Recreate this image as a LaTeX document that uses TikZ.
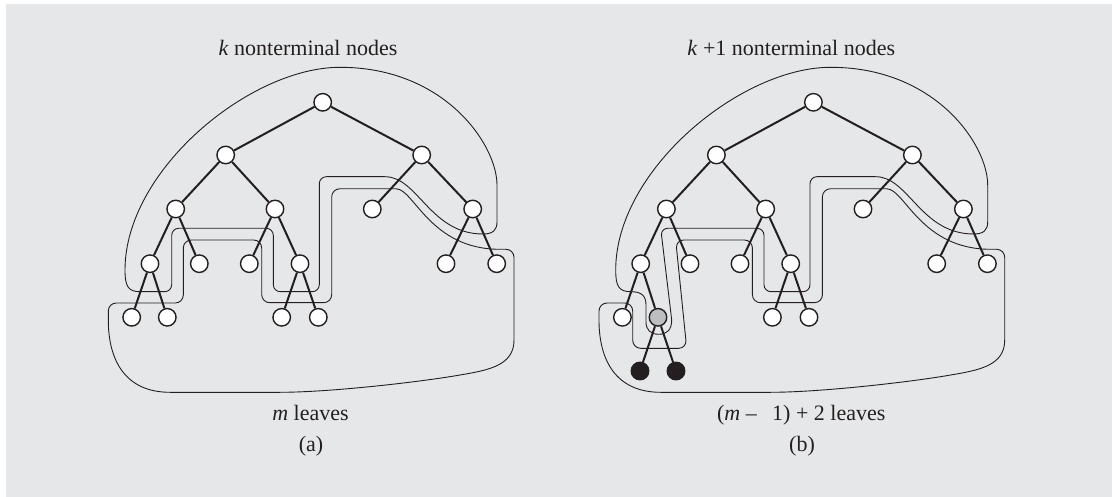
\documentclass[tikz,border=0pt]{standalone}
\usepackage{fontspec}
\setmainfont{Liberation Serif}
\definecolor{bg}{HTML}{E6E7E8}
\definecolor{ink}{HTML}{231F20}
\definecolor{midgray}{HTML}{BCBEC0}
\tikzset{
 tn/.style={circle, draw=ink, line width=1.4pt, fill=white, minimum size=17.5pt, inner sep=0pt},
 gn/.style={tn, fill=midgray},
 bn/.style={tn, fill=ink},
 treeedge/.style={draw=ink, line width=2pt},
 region/.style={draw=ink, line width=0.9pt},
 lbl/.style={font=\fontsize{22}{26}\selectfont, text=ink, anchor=base, inner sep=0pt}
}
\newcommand{\treenodes}[2]{%
 \node[tn] (#1r) at (322.7,102.3) {};
 \node[tn] (#1a) at (225.7,155) {};
 \node[tn] (#1b) at (421.7,155) {};
 \node[tn] (#1aa) at (175.7,209) {};
 \node[tn] (#1ab) at (275,209) {};
 \node[tn] (#1ba) at (372.3,209) {};
 \node[tn] (#1bb) at (472.7,209) {};
 \node[tn] (#1aaa) at (150,263.7) {};
 \node[tn] (#1aab) at (199.3,263.7) {};
 \node[tn] (#1aba) at (249.3,263.7) {};
 \node[tn] (#1abb) at (300,263.7) {};
 \node[tn] (#1bba) at (446,263.7) {};
 \node[tn] (#1bbb) at (496.7,263.7) {};
 \node[tn] (#1aaaa) at (131.7,317.3) {};
 \node[#2] (#1aaab) at (167.3,317.3) {};
 \node[tn] (#1abba) at (281.7,317.3) {};
 \node[tn] (#1abbb) at (318.3,317.3) {};
 \draw[treeedge] (#1r) -- (#1a) (#1r) -- (#1b)
  (#1a) -- (#1aa) (#1a) -- (#1ab) (#1b) -- (#1ba) (#1b) -- (#1bb)
  (#1aa) -- (#1aaa) (#1aa) -- (#1aab) (#1ab) -- (#1aba) (#1ab) -- (#1abb)
  (#1bb) -- (#1bba) (#1bb) -- (#1bbb)
  (#1aaa) -- (#1aaaa) (#1aaa) -- (#1aaab) (#1abb) -- (#1abba) (#1abb) -- (#1abbb);
}
\begin{document}
\begin{tikzpicture}[x=1pt,y=-1pt]
\useasboundingbox (0,0) rectangle (1112,497);
\fill[white] (0,0) rectangle (1112,497);
\fill[bg] (6,4) rectangle (1112,497);

% ---------- panel (a) ----------
\draw[region] (340,67.3) .. controls (250,67.3) and (125,170) .. (125,270)
  .. controls (125,286) and (128,291.7) .. (140,291.7)
  [rounded corners=7pt] -- (171.7,291.7) -- (171.7,228.3) -- (273.3,228.3) -- (273.3,291.7)
  -- (319.3,291.7) -- (319.3,176.7) -- (378,176.7) [sharp corners]
  .. controls (418,176.7) and (430,234) .. (483,234)
  .. controls (493,234) and (497,230) .. (497,222) -- (497,185)
  .. controls (497,145) and (445,67.3) .. (340,67.3) -- cycle;
\draw[region] (108.3,320) [rounded corners=8pt] -- (108.3,303) -- (183.3,303) -- (183.3,240)
  -- (261.7,240) -- (261.7,302.7) -- (331.7,302.7) -- (331.7,188.8) -- (388,188.8) [sharp corners]
  .. controls (414,188.8) and (430,249.3) .. (500,249.3) [rounded corners=8pt]
  -- (514,249.3) -- (514,300) [sharp corners] -- (514,340)
  .. controls (514,365) and (490,370) .. (460,375)
  .. controls (420,382) and (330,392.3) .. (280,392.3) -- (170,392.3)
  .. controls (125,392.3) and (108.3,360) .. (108.3,320) -- cycle;
\treenodes{L}{tn}
\node[lbl] (ta1) at (308,56) {\textit{k} nonterminal nodes};
\node[lbl] (ta2) at (310.5,420.7) {\textit{m} leaves};
\node[lbl] (ta3) at (311,451) {(a)};

% ---------- panel (b) ----------
\begin{scope}[xshift=490.7pt]
\draw[region] (340,67.3) .. controls (250,67.3) and (125,170) .. (125,270)
  .. controls (125,286) and (128,291.7) .. (140,291.7)
  .. controls (150,291.7) and (155.3,295) .. (155.3,305) -- (155.3,322)
  .. controls (155.3,330) and (160,334.3) .. (168,334.3)
  .. controls (176,334.3) and (181,330) .. (181,320)
  [rounded corners=7pt] -- (170,228.3) -- (273.3,228.3) -- (273.3,291.7)
  -- (319.3,291.7) -- (319.3,176.7) -- (378,176.7) [sharp corners]
  .. controls (418,176.7) and (430,234) .. (483,234)
  .. controls (493,234) and (497,230) .. (497,222) -- (497,185)
  .. controls (497,145) and (445,67.3) .. (340,67.3) -- cycle;
\draw[region] (108.3,320) [rounded corners=8pt] -- (108.3,303) -- (142,303) -- (142,348.3)
  -- (196,348.3) -- (185,240)
  -- (261.7,240) -- (261.7,302.7) -- (331.7,302.7) -- (331.7,188.8) -- (388,188.8) [sharp corners]
  .. controls (414,188.8) and (430,249.3) .. (500,249.3) [rounded corners=8pt]
  -- (514,249.3) -- (514,300) [sharp corners] -- (514,340)
  .. controls (514,365) and (490,370) .. (460,375)
  .. controls (420,382) and (330,392.3) .. (280,392.3) -- (170,392.3)
  .. controls (125,392.3) and (108.3,360) .. (108.3,320) -- cycle;
\treenodes{R}{gn}
\node[bn] (Raaaba) at (149.3,371) {};
\node[bn] (Raaabb) at (185.3,371) {};
\draw[treeedge] (Raaab) -- (Raaaba) (Raaab) -- (Raaabb);
\end{scope}
\node[lbl] (tb1) at (791.3,56) {\textit{k} +1 nonterminal nodes};
\node[lbl] (tb2) at (801.3,420.7) {(\textit{m} –\hspace{0.7em}1) + 2 leaves};
\node[lbl] (tb3) at (802,451) {(b)};
\end{tikzpicture}
\end{document}
